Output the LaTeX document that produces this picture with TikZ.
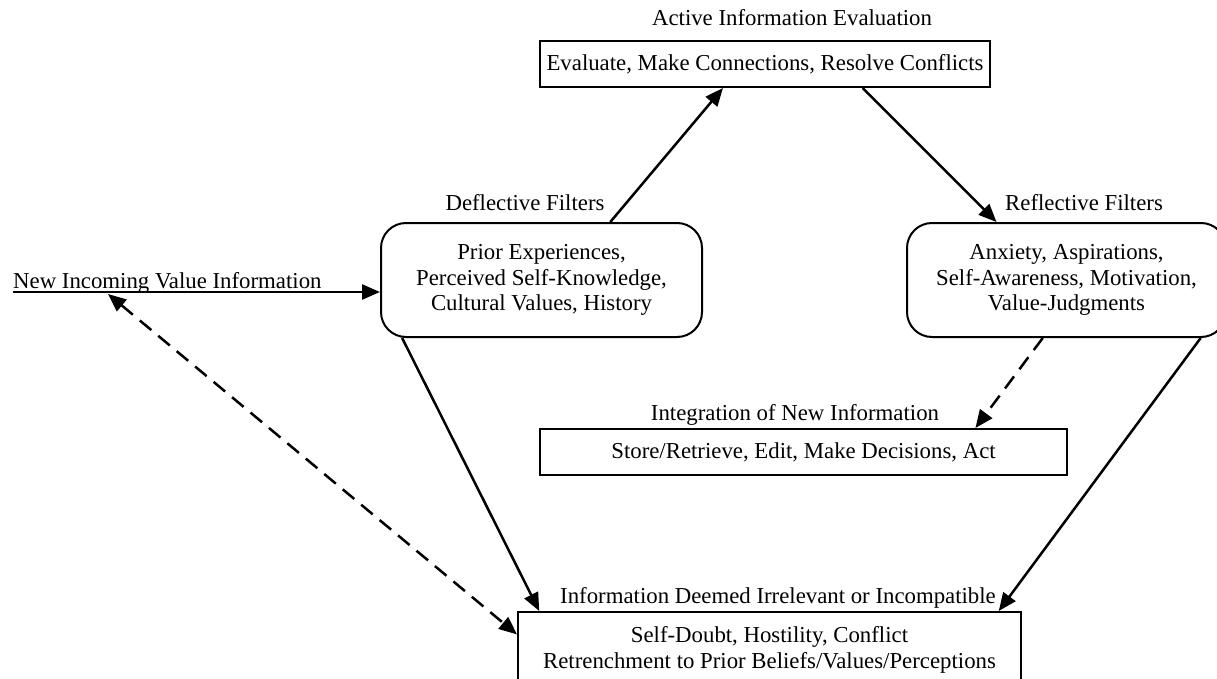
\documentclass[tikz,border=0pt]{standalone}
\usepackage{fontspec}
\setmainfont{Liberation Serif}
\usetikzlibrary{arrows.meta,calc}
\begin{document}
\begin{tikzpicture}[x=1pt,y=-1pt,
  every node/.style={font=\fontsize{22.8}{25.5}\selectfont, inner sep=0pt},
  sqbox/.style={draw, line width=2pt, rectangle, align=center},
  rbox/.style={draw, line width=2pt, rounded corners=25pt, align=center},
  lbl/.style={anchor=base},
  tip/.style={-{Triangle[length=18pt,width=15pt]}},
  arr/.style={line width=2.5pt, tip},
  darr/.style={line width=2.5pt, dash pattern=on 15pt off 9pt, tip},
  ddarr/.style={line width=2.5pt, dash pattern=on 15pt off 9pt, {Triangle[length=18pt,width=15pt]}-{Triangle[length=18pt,width=15pt]}},
]
\useasboundingbox (0,0) rectangle (1217,679);
\clip (0,0) rectangle (1217,679);

% boxes
\node[sqbox, minimum width=450pt, minimum height=46pt] (top) at (765,64)
  {Evaluate, Make Connections, Resolve Conflicts};
\node[rbox, minimum width=321pt, minimum height=114pt] (defl) at (541.5,280)
  {Prior Experiences,\\Perceived Self-Knowledge,\\Cultural Values, History};
\node[rbox, minimum width=319pt, minimum height=114pt] (refl) at (1066.5,280)
  {Anxiety, Aspirations,\\Self-Awareness, Motivation,\\Value-Judgments};
\node[sqbox, minimum width=527pt, minimum height=46pt] (integ) at (803.5,452)
  {Store/Retrieve, Edit, Make Decisions, Act};
\node[sqbox, minimum width=503pt, minimum height=76pt] (bot) at (769.5,650)
  {Self-Doubt, Hostility, Conflict\\Retrenchment to Prior Beliefs/Values/Perceptions};

% labels
\node[lbl] (ltop) at (792,26) {Active Information Evaluation};
\node[lbl] (ldefl) at (525,210) {Deflective Filters};
\node[lbl] (lrefl) at (1084,210) {Reflective Filters};
\node[lbl] (linteg) at (795,420) {Integration of New Information};
\node[lbl] (lbot) at (778,603) {Information Deemed Irrelevant or Incompatible};
\node[anchor=base west] (lnew) at (13,288) {New Incoming Value Information};

% connectors
\coordinate (nin) at (13,292);
\coordinate (dtip) at (108,294);
\draw[arr] (nin) -- (nin -| defl.west);
\draw[arr] ($(defl.north west)!0.713!(defl.north east)$) -- ($(top.south west)!0.407!(top.south east)$);
\draw[arr] ($(top.south west)!0.716!(top.south east)$) -- ($(refl.north west)!0.282!(refl.north east)$);
\draw[arr] ($(defl.south west)!0.0685!(defl.south east)$) -- ($(bot.north west)!0.044!(bot.north east)$);
\draw[arr] ($(refl.south west)!0.918!(refl.south east)$) -- ($(bot.north west)!0.954!(bot.north east)$);
\draw[darr] ($(refl.south west)!0.426!(refl.south east)$) -- ($(integ.north west)!0.825!(integ.north east)$);
\draw[ddarr] (dtip) -- ($(bot.north west)!0.3!(bot.south west)$);
\end{tikzpicture}
\end{document}
